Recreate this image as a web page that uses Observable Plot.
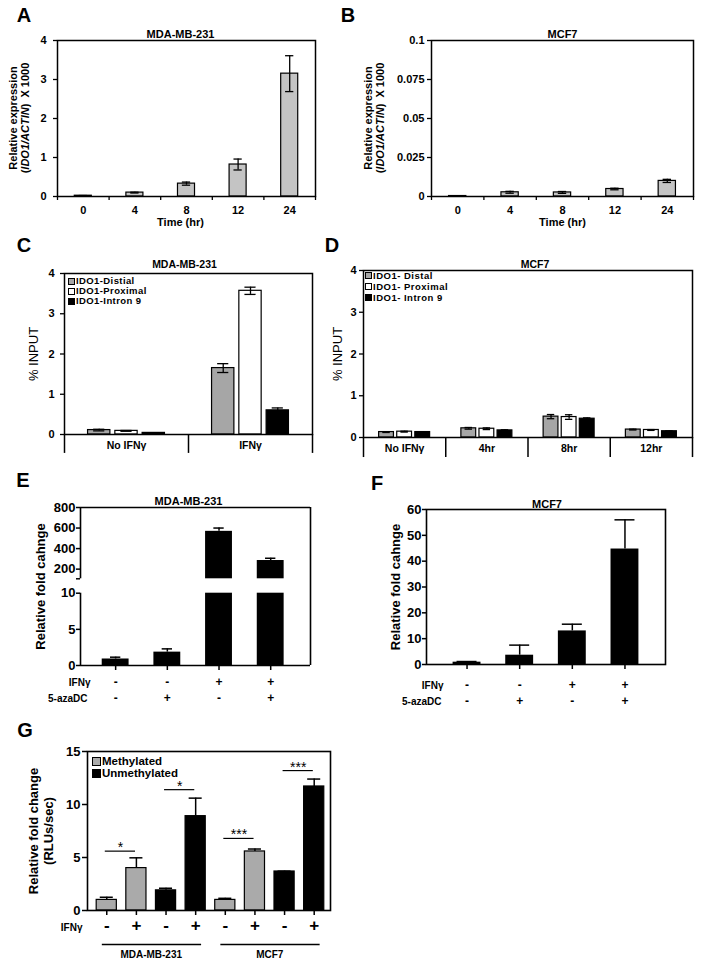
<!DOCTYPE html>
<html><head><meta charset="utf-8">
<script src="https://cdn.jsdelivr.net/npm/d3@7"></script>
<script src="https://cdn.jsdelivr.net/npm/@observablehq/plot@0.6"></script>
<style>
body{margin:0;background:#fff;}
#fig{position:relative;width:703px;height:968px;overflow:hidden;font-family:'Liberation Sans',Arial,Helvetica,sans-serif;background:#fff;color:#000;}
.panel{position:absolute;}
.panel svg{display:block;overflow:visible;}
.lab{position:absolute;white-space:nowrap;font-weight:bold;line-height:1.15;}
.ctr{transform:translate(-50%,-50%);}
.rot{transform:translate(-50%,-50%) rotate(-90deg);text-align:center;}
.legend{position:absolute;font-weight:bold;}
.legend div{display:flex;align-items:center;white-space:nowrap;overflow:visible;}
.legend .sw{display:inline-block;border:1px solid #000;box-sizing:border-box;margin-right:1px;flex:none;}
</style></head>
<body><div id="fig"></div>
<script>
// ---------- data ----------
const timeLabels = ["0", "4", "8", "12", "24"];
const aValues = [0.02, 0.10, 0.33, 0.82, 3.15];
const aErrors = [0.005, 0.01, 0.04, 0.14, 0.46];
const bValues = [0.0003, 0.0027, 0.0026, 0.0048, 0.0100];
const bErrors = [0.0001, 0.0006, 0.0006, 0.0005, 0.0010];

const chipSeries = ["Distal", "Proximal", "Intron 9"];
const cLegendLabels = ["IDO1-Distial", "IDO1-Proximal", "IDO1-Intron 9"];
const dLegendLabels = ["IDO1- Distal", "IDO1- Proximal", "IDO1- Intron 9"];
const cGroups = ["No IFNγ", "IFNγ"];
const cDistal = [0.11, 1.65];
const cProximal = [0.09, 3.57];
const cIntron = [0.04, 0.60];
const cDistalErr = [0.02, 0.11];
const cProximalErr = [0.01, 0.09];
const cIntronErr = [0.005, 0.06];

const dGroups = ["No IFNγ", "4hr", "8hr", "12hr"];
const dDistal = [0.13, 0.22, 0.50, 0.19];
const dProximal = [0.14, 0.21, 0.49, 0.18];
const dIntron = [0.13, 0.17, 0.45, 0.15];
const dDistalErr = [0.01, 0.02, 0.05, 0.01];
const dProximalErr = [0.01, 0.02, 0.055, 0.01];
const dIntronErr = [0.005, 0.015, 0.02, 0.005];

const efIFN = ["-", "-", "+", "+"];
const efAza = ["-", "+", "-", "+"];
const eValues = [0.9, 1.85, 568, 284];
const eErrors = [0.25, 0.45, 32, 22];
const fValues = [0.9, 3.6, 13.0, 44.7];
const fErrors = [0.25, 3.9, 2.6, 11.3];

const gConstructs = ["Methylated", "Unmethylated"];
const gConstruct = ["Methylated", "Methylated", "Unmethylated", "Unmethylated", "Methylated", "Methylated", "Unmethylated", "Unmethylated"];
const gIFN = ["-", "+", "-", "+", "-", "+", "-", "+"];
const gCells = ["MDA-MB-231", "MCF7"];
const gCell = ["MDA-MB-231", "MDA-MB-231", "MDA-MB-231", "MDA-MB-231", "MCF7", "MCF7", "MCF7", "MCF7"];
const gValues = [1.0, 4.0, 1.9, 8.9, 1.0, 5.57, 3.68, 11.7];
const gErrors = [0.25, 0.97, 0.2, 1.7, 0.15, 0.23, 0.03, 0.7];
const gSigPairs = [[0, 1], [2, 3], [4, 5], [6, 7]];
const gSigLabels = ["*", "*", "***", "***"];
const gSigLevels = [5.6, 11.4, 6.8, 13.2];

// ---------- helpers ----------
const FONT = "'Liberation Sans', Arial, Helvetica, sans-serif";
const fig = document.getElementById("fig");
const st = fs => ({fontFamily: FONT, fontSize: fs + "px", fontWeight: "bold", color: "#000", background: "transparent", overflow: "visible"});
function place(node, left, top) {
  const d = document.createElement("div");
  d.className = "panel"; d.style.left = left + "px"; d.style.top = top + "px";
  d.appendChild(node); fig.appendChild(d);
}
function label(html, x, y, cls, css) {
  const d = document.createElement("div");
  d.className = "lab " + cls; d.style.left = x + "px"; d.style.top = y + "px";
  d.style.cssText += css || ""; d.innerHTML = html; fig.appendChild(d);
}
function legend(labels, fills, x, y, fs, lh, sw, ls) {
  const d = document.createElement("div");
  d.className = "legend"; d.style.left = x + "px"; d.style.top = y + "px";
  d.style.fontSize = fs + "px"; d.style.lineHeight = lh + "px"; d.style.letterSpacing = ls + "px";
  labels.forEach((l, i) => {
    const r = document.createElement("div");
    r.style.height = lh + "px";
    r.innerHTML = `<span class="sw" style="width:${sw}px;height:${sw}px;background:${fills[i]}"></span><span>${l}</span>`;
    d.appendChild(r);
  });
  fig.appendChild(d);
}
const num = d => String(d);

// ---------- A / B ----------
function timePanel(values, errors, o) {
  const data = values.map((v, i) => ({i, v, e: errors[i]}));
  const c = d => d.i + 0.5;
  return Plot.plot({
    width: o.w, height: 230, marginLeft: o.ml, marginRight: o.mr, marginTop: 40, marginBottom: 34,
    style: st(11),
    x: {type: "linear", domain: [0, timeLabels.length]},
    y: {type: "linear", domain: o.domain},
    marks: [
      Plot.rectY(data, {x1: d => c(d) - 0.165, x2: d => c(d) + 0.165, y1: d => 0, y2: d => d.v, fill: "#c4c4c4", stroke: "#000", strokeWidth: 1.2}),
      Plot.ruleX(data, {x: c, y1: d => d.v - d.e, y2: d => d.v + d.e, stroke: "#000", strokeWidth: 1.3}),
      Plot.ruleY(data, {x1: d => c(d) - 0.08, x2: d => c(d) + 0.08, y: d => d.v + d.e, stroke: "#000", strokeWidth: 1.3}),
      Plot.ruleY(data, {x1: d => c(d) - 0.08, x2: d => c(d) + 0.08, y: d => d.v - d.e, stroke: "#000", strokeWidth: 1.3}),
      Plot.frame({stroke: "#000", strokeWidth: 1.5}),
      Plot.axisY({ticks: o.ticks, tickFormat: num, tickSize: 4, tickPadding: o.tp, label: null, strokeWidth: 1.3}),
      Plot.axisX({ticks: d3.range(timeLabels.length + 1), tickSize: 4, tickFormat: () => "", label: null, strokeWidth: 1.3}),
      Plot.axisX({ticks: timeLabels.map((t, i) => i + 0.5), tickSize: 0, tickPadding: 10, tickFormat: d => timeLabels[Math.floor(d)], label: null}),
      Plot.text([o.title], {text: d => d, frameAnchor: "top", dx: o.tdx, dy: -10, fontSize: 11}),
      Plot.text(["Time (hr)"], {text: d => d, frameAnchor: "bottom", dx: o.tdx, dy: 29, fontSize: 11})
    ]
  });
}
place(timePanel(aValues, aErrors, {w: 340, ml: 57, mr: 25, domain: [0, 4], ticks: [0, 1, 2, 3, 4], tp: 7, title: "MDA-MB-231", tdx: -6}), 0, 0);
place(timePanel(bValues, bErrors, {w: 363, ml: 91, mr: 10, domain: [0, 0.1], ticks: [0, 0.025, 0.05, 0.075, 0.1], tp: 3, title: "MCF7", tdx: 0}), 340, 0);

// ---------- C / D ----------
function chipPanel(groups, vals, errs, o) {
  const data = [];
  groups.forEach((g, i) => chipSeries.forEach((s, j) => data.push({i, j, s, v: vals[j][i], e: errs[j][i]})));
  const c = d => d.i + 0.5 + (d.j - 1) * 0.22;
  return Plot.plot({
    width: o.w, height: 230, marginLeft: o.ml, marginRight: o.mr, marginTop: o.mt, marginBottom: o.mb,
    style: st(11),
    x: {type: "linear", domain: [0, groups.length]},
    y: {type: "linear", domain: [0, 4]},
    color: {domain: chipSeries, range: ["#a6a6a6", "#ffffff", "#000000"]},
    marks: [
      Plot.rectY(data, {x1: d => c(d) - 0.09, x2: d => c(d) + 0.09, y1: d => 0, y2: d => d.v, fill: "s", stroke: "#000", strokeWidth: 1.2}),
      Plot.ruleX(data, {x: c, y1: d => d.v - d.e, y2: d => d.v + d.e, stroke: "#000", strokeWidth: 1.3}),
      Plot.ruleY(data, {x1: d => c(d) - 0.045, x2: d => c(d) + 0.045, y: d => d.v + d.e, stroke: "#000", strokeWidth: 1.3}),
      Plot.ruleY(data, {x1: d => c(d) - 0.045, x2: d => c(d) + 0.045, y: d => d.v - d.e, stroke: "#000", strokeWidth: 1.3}),
      Plot.frame({stroke: "#000", strokeWidth: 1.5}),
      Plot.ruleX(d3.range(groups.length + 1), {x: d => d, y1: d => 0, y2: d => -o.ext, stroke: "#000", strokeWidth: 1.5}),
      Plot.axisY({ticks: [0, 1, 2, 3, 4], tickFormat: num, tickSize: 4, tickPadding: o.tp, label: null, strokeWidth: 1.3}),
      Plot.axisX({ticks: groups.map((g, i) => i + 0.5), tickSize: 0, tickPadding: 7, tickFormat: d => groups[Math.floor(d)], label: null, fontSize: 10.5}),
      Plot.text([o.title], {text: d => d, frameAnchor: "top", dx: o.tdx, dy: o.tdy, fontSize: 10.5}),
      Plot.text(["% INPUT"], {text: d => d, frameAnchor: "left", textAnchor: "middle", rotate: -90, dx: o.ydx, fontSize: 13, fontWeight: "normal"})
    ]
  });
}
place(chipPanel(cGroups, [cDistal, cProximal, cIntron], [cDistalErr, cProximalErr, cIntronErr],
  {w: 322, ml: 64, mr: 10, mt: 43, mb: 26, ext: 0.47, tp: 6, title: "MDA-MB-231", tdx: -4, tdy: -13, ydx: -31}), 0, 230);
place(chipPanel(dGroups, [dDistal, dProximal, dIntron], [dDistalErr, dProximalErr, dIntronErr],
  {w: 381, ml: 41, mr: 11, mt: 40, mb: 23, ext: 0.48, tp: 3, title: "MCF7", tdx: 7, tdy: -10, ydx: -26}), 322, 230);

// ---------- E ----------
const eLow = 10, eHigh = 106;
const eData = eValues.map((v, i) => ({i, v, e: eErrors[i], ifn: efIFN[i], aza: efAza[i]}));
place(Plot.plot({
  width: 340, height: 255, marginLeft: 80, marginRight: 30, marginTop: 47, marginBottom: 50,
  style: st(13),
  x: {type: "linear", domain: [-0.68, 3.77]},
  y: {type: "linear", domain: [0, eLow, eHigh, 800], range: [205, 132.7, 118.3, 47]},
  marks: [
    Plot.rectY(eData, {x1: d => d.i - 0.26, x2: d => d.i + 0.26, y1: d => 0, y2: d => Math.min(d.v, eLow), fill: "#000"}),
    Plot.rectY(eData.filter(d => d.v > eHigh), {x1: d => d.i - 0.26, x2: d => d.i + 0.26, y1: d => eHigh, y2: d => d.v, fill: "#000"}),
    Plot.ruleX(eData, {x: "i", y1: "v", y2: d => d.v + d.e, stroke: "#000", strokeWidth: 1.5}),
    Plot.ruleY(eData, {x1: d => d.i - 0.1, x2: d => d.i + 0.1, y: d => d.v + d.e, stroke: "#000", strokeWidth: 1.5}),
    Plot.ruleX([[0, eLow], [eHigh, 800]], {x: d => -0.68, y1: d => d[0], y2: d => d[1], stroke: "#000", strokeWidth: 1.6}),
    Plot.ruleX([[0, 800]], {x: d => 3.77, y1: d => d[0], y2: d => d[1], stroke: "#000", strokeWidth: 1.6}),
    Plot.ruleY([0, 800], {y: d => d, x1: d => -0.68, x2: d => 3.77, stroke: "#000", strokeWidth: 1.6}),
    Plot.axisY({ticks: [0, 5, 10, 200, 400, 600, 800], tickFormat: num, tickSize: 4, tickPadding: 1, label: null, strokeWidth: 1.5, fontSize: 13}),
    Plot.axisY({ticks: [eHigh], tickSize: 4, tickFormat: () => "", label: null, strokeWidth: 1.5}),
    Plot.axisX({ticks: [0, 1, 2, 3], tickSize: 5, tickFormat: () => "", label: null, strokeWidth: 1.5}),
    Plot.text(["MDA-MB-231"], {text: d => d, frameAnchor: "top", dx: -7, dy: -10, fontSize: 11}),
    Plot.text(["Relative fold cahnge"], {text: d => d, frameAnchor: "left", textAnchor: "middle", rotate: -90, dx: -40, fontSize: 13}),
    Plot.text(eData, {x: "i", text: "ifn", frameAnchor: "bottom", dy: 20, fontSize: 12}),
    Plot.text(eData, {x: "i", text: "aza", frameAnchor: "bottom", dy: 36, fontSize: 12}),
    Plot.text(["IFNγ"], {text: d => d, frameAnchor: "bottom-left", textAnchor: "end", dx: 10, dy: 20, fontSize: 10}),
    Plot.text(["5-azaDC"], {text: d => d, frameAnchor: "bottom-left", textAnchor: "end", dx: 7, dy: 36, fontSize: 10})
  ]
}), 0, 460);

// ---------- F ----------
const fData = fValues.map((v, i) => ({i, v, e: fErrors[i], ifn: efIFN[i], aza: efAza[i]}));
place(Plot.plot({
  width: 363, height: 255, marginLeft: 86, marginRight: 38, marginTop: 49, marginBottom: 51,
  style: st(13),
  x: {type: "linear", domain: [-0.77, 3.77]},
  y: {type: "linear", domain: [0, 60]},
  marks: [
    Plot.rectY(fData, {x1: d => d.i - 0.265, x2: d => d.i + 0.265, y1: d => 0, y2: "v", fill: "#000"}),
    Plot.ruleX(fData, {x: "i", y1: "v", y2: d => d.v + d.e, stroke: "#000", strokeWidth: 1.5}),
    Plot.ruleY(fData, {x1: d => d.i - 0.19, x2: d => d.i + 0.19, y: d => d.v + d.e, stroke: "#000", strokeWidth: 1.5}),
    Plot.frame({stroke: "#000", strokeWidth: 1.6}),
    Plot.axisY({ticks: [0, 10, 20, 30, 40, 50, 60], tickFormat: num, tickSize: 4, tickPadding: 1, label: null, strokeWidth: 1.5, fontSize: 13}),
    Plot.axisX({ticks: [0, 1, 2, 3], tickSize: 5, tickFormat: () => "", label: null, strokeWidth: 1.5}),
    Plot.text(["MCF7"], {text: d => d, frameAnchor: "top", dx: 1, dy: -9, fontSize: 11}),
    Plot.text(["Relative fold cahnge"], {text: d => d, frameAnchor: "left", textAnchor: "middle", rotate: -90, dx: -31, fontSize: 13}),
    Plot.text(fData, {x: "i", text: "ifn", frameAnchor: "bottom", dy: 24, fontSize: 12}),
    Plot.text(fData, {x: "i", text: "aza", frameAnchor: "bottom", dy: 40, fontSize: 12}),
    Plot.text(["IFNγ"], {text: d => d, frameAnchor: "bottom-left", textAnchor: "end", dx: 17, dy: 24, fontSize: 10}),
    Plot.text(["5-azaDC"], {text: d => d, frameAnchor: "bottom-left", textAnchor: "end", dx: 15, dy: 40, fontSize: 10})
  ]
}), 340, 460);

// ---------- G ----------
const gData = gValues.map((v, i) => ({i, v, e: gErrors[i], k: gConstruct[i], ifn: gIFN[i], cell: gCell[i]}));
const gSig = gSigPairs.map((p, k) => ({x1: p[0] - 0.05, x2: p[1] - 0.03, y: gSigLevels[k], t: gSigLabels[k]}));
const gGroups = gCells.map(c => {
  const idx = gData.filter(d => d.cell === c).map(d => d.i);
  return {c, x1: d3.min(idx) - 0.15, x2: d3.max(idx) + 0.2, xc: (d3.min(idx) + d3.max(idx)) / 2};
});
place(Plot.plot({
  width: 450, height: 253, marginLeft: 87, marginRight: 120, marginTop: 36, marginBottom: 58,
  style: st(13),
  x: {type: "linear", domain: [-0.65, 7.55]},
  y: {type: "linear", domain: [0, 15]},
  color: {domain: gConstructs, range: ["#aaaaaa", "#000000"]},
  marks: [
    Plot.rectY(gData, {x1: d => d.i - 0.34, x2: d => d.i + 0.34, y1: d => 0, y2: "v", fill: "k", stroke: "#000", strokeWidth: 1.2}),
    Plot.ruleX(gData, {x: "i", y1: "v", y2: d => d.v + d.e, stroke: "#000", strokeWidth: 1.5}),
    Plot.ruleY(gData, {x1: d => d.i - 0.22, x2: d => d.i + 0.22, y: d => d.v + d.e, stroke: "#000", strokeWidth: 1.5}),
    Plot.ruleY(gSig, {x1: "x1", x2: "x2", y: "y", stroke: "#000", strokeWidth: 1.2}),
    Plot.text(gSig, {x: d => (d.x1 + d.x2) / 2, y: "y", text: "t", lineAnchor: "bottom", dy: 1, fontSize: 14, fontWeight: "normal", letterSpacing: "2px"}),
    Plot.frame({stroke: "#000", strokeWidth: 1.6}),
    Plot.axisY({ticks: [0, 5, 10, 15], tickFormat: num, tickSize: 5, tickPadding: 2, label: null, strokeWidth: 1.5, fontSize: 13}),
    Plot.axisX({ticks: d3.range(gValues.length), tickSize: 5, tickFormat: () => "", label: null, strokeWidth: 1.5}),
    Plot.text(["Relative fold change\n(RLUs/sec)"], {text: d => d, frameAnchor: "left", textAnchor: "middle", lineAnchor: "middle", rotate: -90, dx: -47, fontSize: 13, lineHeight: 1.15}),
    Plot.text(gData, {x: "i", text: "ifn", frameAnchor: "bottom", dy: 20, fontSize: 17}),
    Plot.text(["IFNγ"], {text: d => d, frameAnchor: "bottom-left", textAnchor: "end", dx: -5, dy: 20, fontSize: 10}),
    Plot.ruleY(gGroups, {x1: "x1", x2: "x2", y: d => 0, dy: 34, stroke: "#000", strokeWidth: 1.5}),
    Plot.text(gGroups, {x: "xc", text: "c", frameAnchor: "bottom", dy: 47, fontSize: 10})
  ]
}), 0, 715);

// ---------- HTML text: letters, italic y-labels, legends ----------
[["A", 24, 15], ["B", 348, 15], ["C", 24, 245], ["D", 332, 245], ["E", 23, 480], ["F", 377, 483], ["G", 25, 730]]
  .forEach(([t, x, y]) => label(t, x, y, "ctr", "font-size:20px;"));
const yA = "Relative expression<br>(<i>IDO1/ACTIN</i>)&nbsp; X 1000";
label(yA, 19, 118, "rot", "font-size:11px;line-height:12px;");
label(yA, 374, 118, "rot", "font-size:11px;line-height:12px;");
legend(cLegendLabels, ["#a6a6a6", "#ffffff", "#000000"], 68, 276, 9.5, 10, 7, 0.4);
legend(dLegendLabels, ["#a6a6a6", "#ffffff", "#000000"], 365, 270, 9.5, 11, 7, 0.5);
legend(gConstructs, ["#aaaaaa", "#000000"], 92, 755, 11.5, 12, 9, 0);
</script>
</body></html>
